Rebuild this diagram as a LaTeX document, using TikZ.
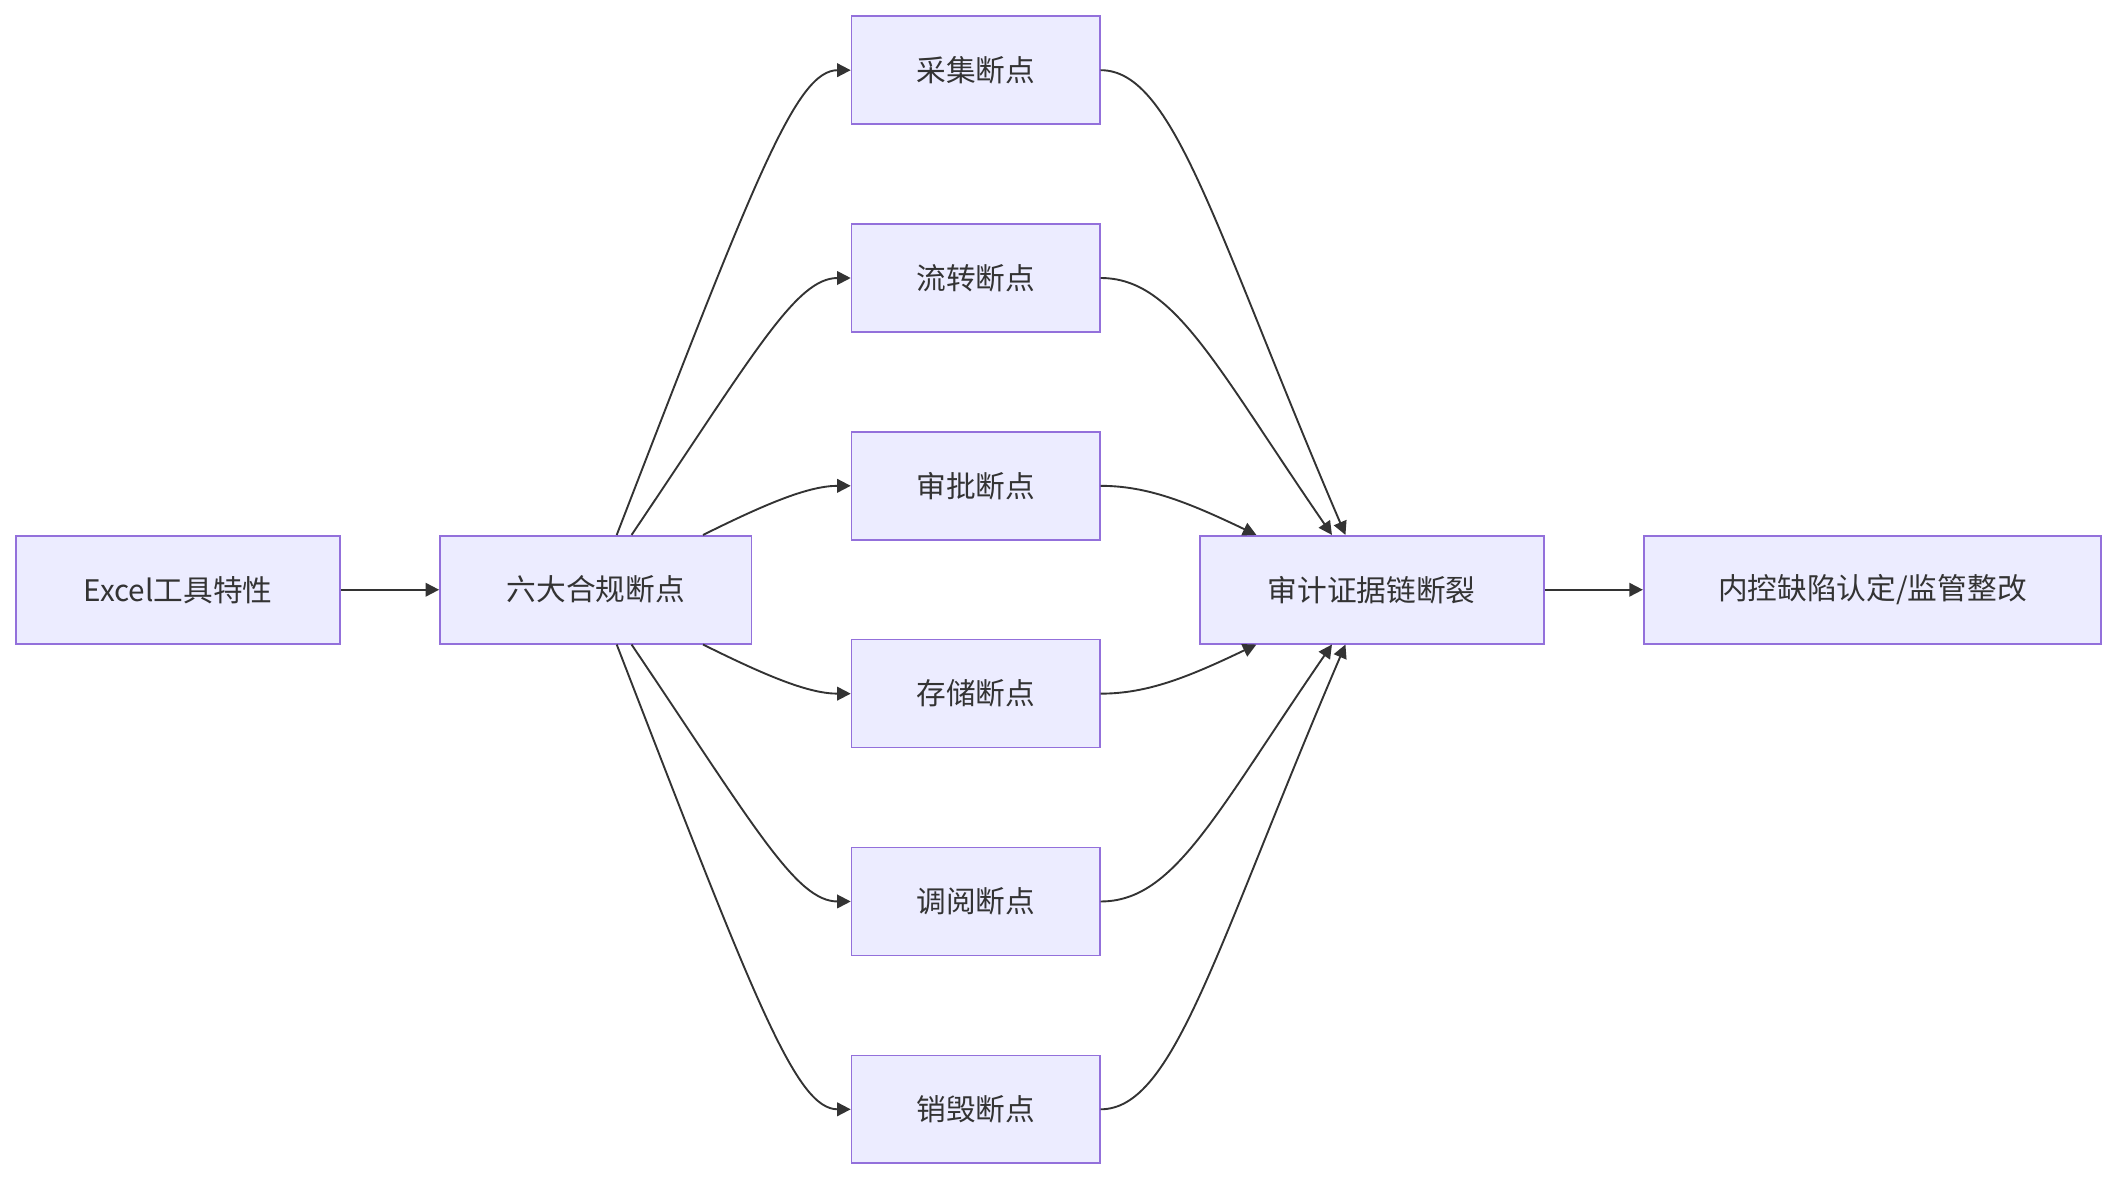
\documentclass[tikz,border=0pt]{standalone}
\usepackage{fontspec}
\setmainfont{Noto Sans CJK SC}
\usetikzlibrary{arrows.meta}
\definecolor{boxfill}{HTML}{ECECFF}
\definecolor{boxline}{HTML}{9370DB}
\definecolor{linkcol}{HTML}{333333}
\begin{document}
\begin{tikzpicture}[x=0.5pt,y=-0.5pt,
  box/.style={draw=boxline,fill=boxfill,line width=0.6pt,minimum height=40pt,inner sep=0pt,font=\fontsize{11}{13}\selectfont,text=linkcol},
  link/.style={draw=linkcol,line width=0.7pt,-{Triangle[length=5pt,width=5pt]}}]
\useasboundingbox (0,0) rectangle (1568,875);

% Nodes
\node[box,minimum width=120pt] (excel) at (132,437) {Excel工具特性};
\node[box,minimum width=115.5pt] (six) at (441.5,437) {六大合规断点};
\node[box,minimum width=92pt] (caiji) at (723,52) {采集断点};
\node[box,minimum width=92pt] (liuzhuan) at (723,206) {流转断点};
\node[box,minimum width=92pt] (shenpi) at (723,360) {审批断点};
\node[box,minimum width=92pt] (cunchu) at (723,514) {存储断点};
\node[box,minimum width=92pt] (diaoyue) at (723,668) {调阅断点};
\node[box,minimum width=92pt] (xiaohui) at (723,822) {销毁断点};
\node[box,minimum width=127.5pt] (audit) at (1016.5,437) {审计证据链断裂};
\node[box,minimum width=169.5pt] (defect) at (1387.5,437) {内控缺陷认定/监管整改};

% Links
\draw[link] (excel) -- (six);
\draw[link] (audit) -- (defect);

\draw[link] ([xshift=7.75pt]six.north) .. controls (560,130) and (590,52) .. (caiji.west);
\draw[link] ([xshift=13.25pt]six.north) .. controls (560,260) and (590,206) .. (liuzhuan.west);
\draw[link] ([xshift=39.75pt]six.north) .. controls (570,372) and (600,360) .. (shenpi.west);
\draw[link] ([xshift=39.75pt]six.south) .. controls (570,502) and (600,514) .. (cunchu.west);
\draw[link] ([xshift=13.25pt]six.south) .. controls (560,614) and (590,668) .. (diaoyue.west);
\draw[link] ([xshift=7.75pt]six.south) .. controls (560,744) and (590,822) .. (xiaohui.west);

\draw[link] (caiji.east) .. controls (870,52) and (900,170) .. ([xshift=-9.75pt]audit.north);
\draw[link] (liuzhuan.east) .. controls (870,206) and (900,270) .. ([xshift=-14.75pt]audit.north);
\draw[link] (shenpi.east) .. controls (850,360) and (880,372) .. ([xshift=-42.75pt]audit.north);
\draw[link] (cunchu.east) .. controls (850,514) and (880,502) .. ([xshift=-42.75pt]audit.south);
\draw[link] (diaoyue.east) .. controls (870,668) and (900,604) .. ([xshift=-14.75pt]audit.south);
\draw[link] (xiaohui.east) .. controls (870,822) and (900,704) .. ([xshift=-9.75pt]audit.south);
\end{tikzpicture}
\end{document}
